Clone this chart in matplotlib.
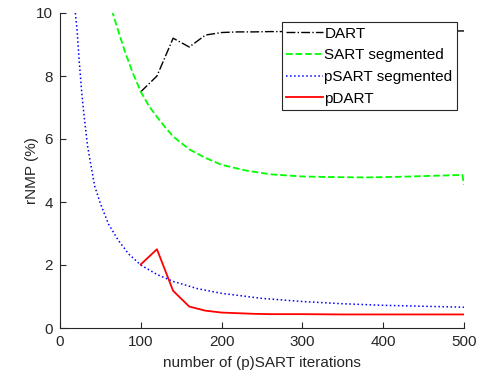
import matplotlib
matplotlib.use("Agg")
import matplotlib.pyplot as plt

plt.rcParams["font.family"] = ["Liberation Sans", "DejaVu Sans"]

# DART (black dash-dot), sampled every 20 iterations from 100
dart_x = [100, 120, 140, 160, 180, 200, 220, 240, 260, 280, 300, 320, 340, 360, 380, 400, 420, 440, 460, 480, 500]
dart_y = [7.5, 8.0, 9.2, 8.92, 9.3, 9.38, 9.40, 9.40, 9.41, 9.41, 9.41, 9.42, 9.42, 9.42, 9.42, 9.42, 9.43, 9.43, 9.43, 9.43, 9.43]

# SART segmented (green dashed)
sart_x = [64, 70, 80, 90, 100, 110, 120, 130, 140, 160, 180, 200, 230, 260, 300, 340, 380, 420, 460, 498, 500]
sart_y = [10.1, 9.6, 8.8, 8.1, 7.5, 7.05, 6.7, 6.38, 6.08, 5.67, 5.4, 5.18, 5.0, 4.88, 4.81, 4.79, 4.78, 4.80, 4.83, 4.86, 4.55]

# pSART segmented (blue dotted)
psart_x = [19, 21, 24, 27, 30, 34, 38, 43, 50, 60, 72, 85, 100, 120, 140, 170, 200, 250, 300, 350, 400, 450, 500]
psart_y = [10.0, 9.5, 8.4, 7.45, 6.7, 5.8, 5.2, 4.5, 3.95, 3.3, 2.79, 2.35, 2.0, 1.7, 1.48, 1.25, 1.1, 0.94, 0.84, 0.77, 0.72, 0.69, 0.66]

# pDART (red solid)
pdart_x = [100, 120, 140, 160, 180, 200, 220, 240, 260, 300, 350, 400, 450, 500]
pdart_y = [2.02, 2.5, 1.18, 0.68, 0.55, 0.49, 0.47, 0.45, 0.44, 0.44, 0.43, 0.43, 0.43, 0.43]

fig = plt.figure(figsize=(4.82, 3.81), dpi=100)
ax = fig.add_axes([60 / 482, 1 - 328 / 381, 404 / 482, 315 / 381])

ax.plot(dart_x, dart_y, "-.", color="black", linewidth=1.0, label="DART")
ax.plot(sart_x, sart_y, "--", color="#00ff00", linewidth=1.3, label="SART segmented")
ax.plot(psart_x, psart_y, ":", color="blue", linewidth=1.1, label="pSART segmented")
ax.plot(pdart_x, pdart_y, "-", color="red", linewidth=1.3, label="pDART")

ax.set_xlim(0, 500)
ax.set_ylim(0, 10)
ax.set_xticks([0, 100, 200, 300, 400, 500])
ax.set_yticks([0, 2, 4, 6, 8, 10])

spine_col = "#262626"
for side in ("top", "right"):
    ax.spines[side].set_visible(False)
for side in ("left", "bottom"):
    ax.spines[side].set_color(spine_col)
    ax.spines[side].set_linewidth(0.8)
ax.tick_params(direction="in", length=4, width=0.8, colors=spine_col, labelsize=11,
               labelcolor="#262626", pad=5)

ax.set_xlabel("number of (p)SART iterations", fontsize=11, color="#262626", labelpad=5)
ax.set_ylabel("rNMP (%)", fontsize=11, color="#262626", labelpad=-2)

leg = ax.legend(
    loc="upper right",
    bbox_to_anchor=(457 / 482, 1 - 22 / 381),
    bbox_transform=fig.transFigure,
    fontsize=11,
    frameon=True,
    fancybox=False,
    handlelength=2.4,
    handletextpad=0.1,
    borderpad=0.3,
    labelspacing=0.5,
    borderaxespad=0,
)
leg.get_frame().set_edgecolor("#262626")
leg.get_frame().set_linewidth(0.8)
leg.get_frame().set_alpha(1)

fig.savefig("out.png", dpi=100)
